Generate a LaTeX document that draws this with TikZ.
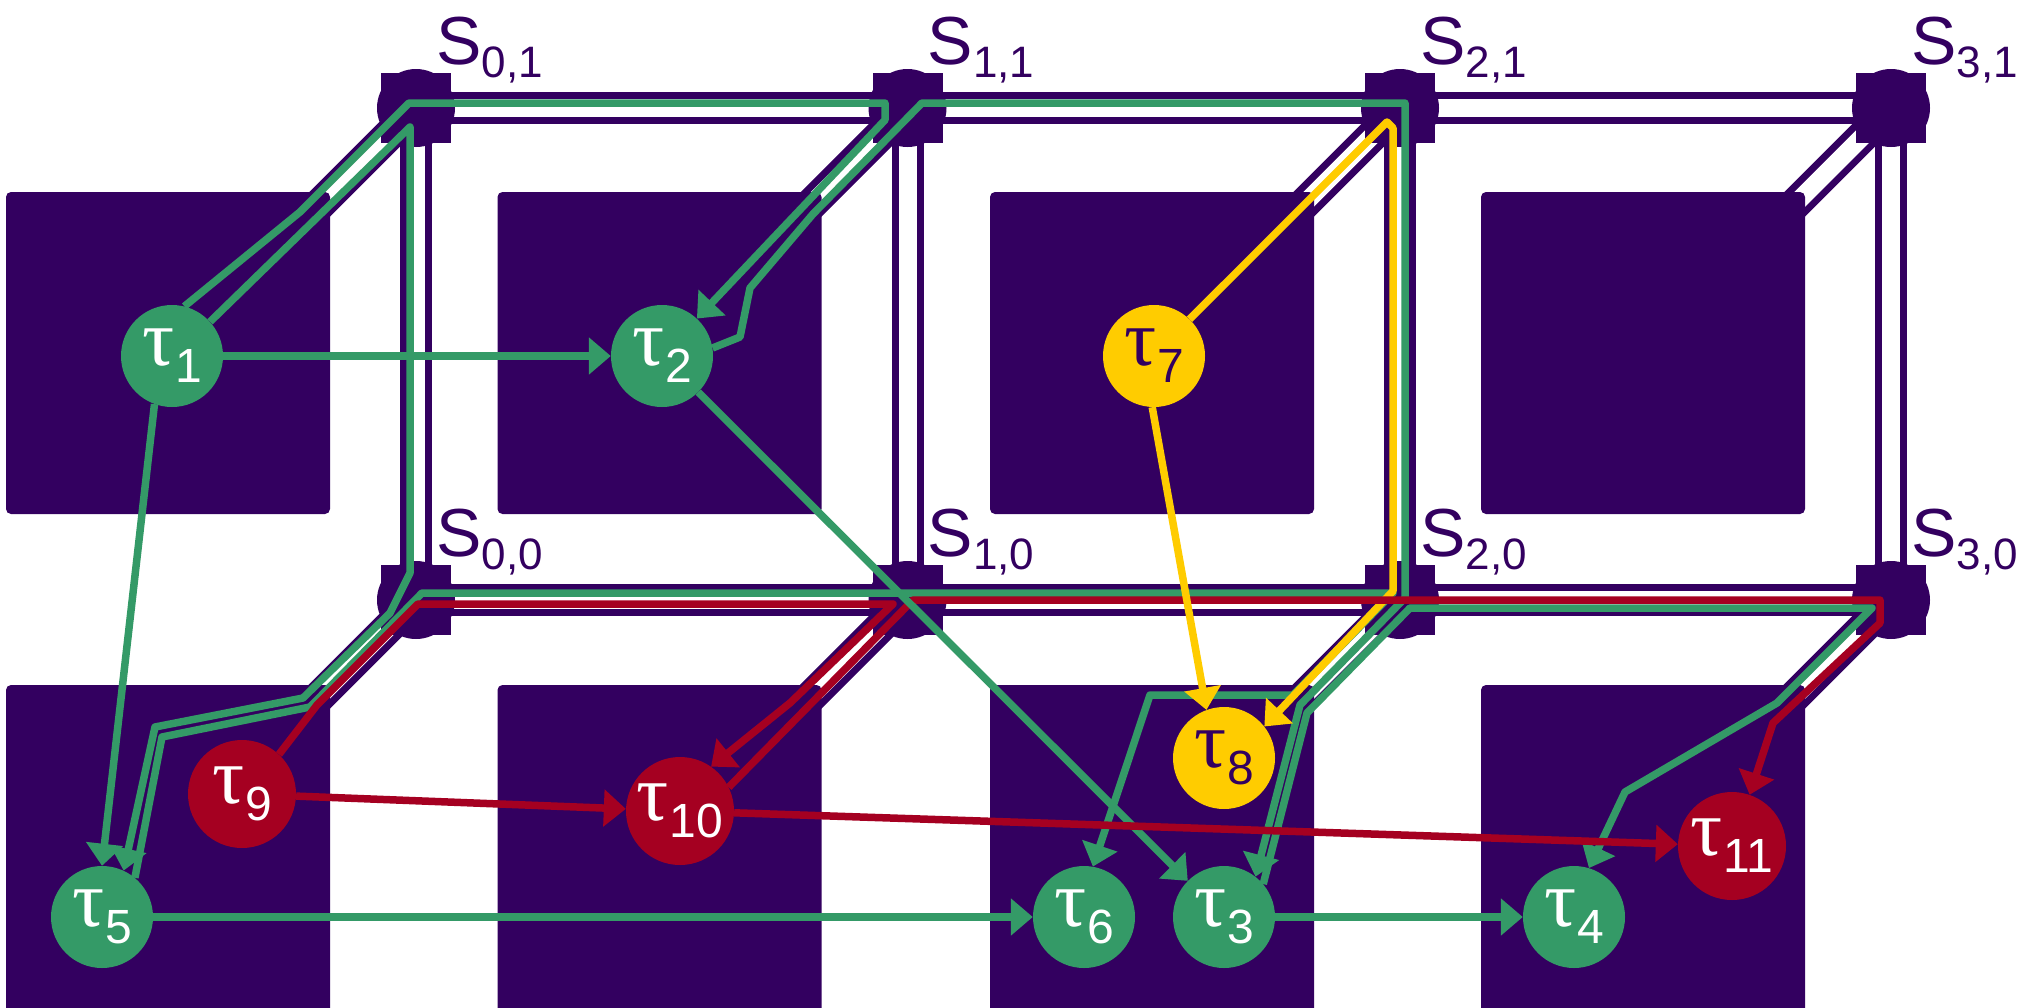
\documentclass[tikz,border=0pt]{standalone}
\usepackage{fontspec}
\setmainfont{Liberation Sans}
\newfontfamily\taufont{Liberation Serif}
\usetikzlibrary{arrows.meta}
\definecolor{dk}{RGB}{51,0,96}
\definecolor{gr}{RGB}{52,154,103}
\definecolor{rd}{RGB}{165,0,33}
\definecolor{yl}{RGB}{255,204,0}
\pgfdeclarelayer{bg}
\pgfdeclarelayer{mid}
\pgfsetlayers{bg,mid,main}
\newcommand\tsk[1]{{\taufont τ}\kern1pt\raisebox{-17pt}{\fontsize{48}{48}\selectfont #1}}
\newcommand\swl[1]{S\raisebox{-13pt}{\fontsize{44}{44}\selectfont #1}}
\tikzset{
  linkout/.style={line width=32pt, draw=dk},
  linkin/.style={line width=18pt, draw=white},
  blk/.style={fill=dk, rounded corners=5pt},
  swc/.style={circle, fill=dk, minimum size=78pt, inner sep=0pt},
  sws/.style={rectangle, fill=dk, minimum size=70pt, inner sep=0pt},
  swlab/.style={anchor=base west, text=dk, inner sep=0pt, font=\fontsize{68}{68}\selectfont},
  route/.style={line width=7.5pt, line join=round},
  arr/.style={-{Triangle[length=22pt,width=36pt]}},
  task/.style={circle, minimum size=102pt, inner sep=0pt, font=\fontsize{80}{80}\selectfont},
  gtask/.style={task, fill=gr, text=white},
  rtask/.style={task, fill=rd, text=white, minimum size=108pt},
  ytask/.style={task, fill=yl, text=dk},
}
\begin{document}
\begin{tikzpicture}[x=1pt,y=-1pt]
\useasboundingbox (0,0) rectangle (2032,1007);
\clip (0,0) rectangle (2032,1007);
% switch positions
\coordinate (s01) at (416,108);
\coordinate (s11) at (907.5,108);
\coordinate (s21) at (1400,108);
\coordinate (s31) at (1891,108);
\coordinate (s00) at (416,600);
\coordinate (s10) at (907.5,600);
\coordinate (s20) at (1400,600);
\coordinate (s30) at (1891,600);
% diagonal link ends
\coordinate (d01) at (301,223);
\coordinate (d11) at (792.5,223);
\coordinate (d21) at (1285,223);
\coordinate (d31) at (1776,223);
\coordinate (d00) at (301,715);
\coordinate (d10) at (792.5,715);
\coordinate (d20) at (1285,715);
\coordinate (d30) at (1776,715);

\begin{pgfonlayer}{bg}
\foreach \a/\b in {s01/s11,s11/s21,s21/s31,s00/s10,s10/s20,s20/s30,s01/s00,s11/s10,s21/s20,s31/s30,s01/d01,s11/d11,s21/d21,s31/d31,s00/d00,s10/d10,s20/d20,s30/d30}
  {\draw[linkout] (\a) -- (\b);}
\foreach \a/\b in {s01/s11,s11/s21,s21/s31,s00/s10,s10/s20,s20/s30,s01/s00,s11/s10,s21/s20,s31/s30,s01/d01,s11/d11,s21/d21,s31/d31,s00/d00,s10/d10,s20/d20,s30/d30}
  {\draw[linkin] (\a) -- (\b);}
\foreach \s in {s01,s11,s21,s31,s00,s10,s20,s30}
  {\node[swc] at (\s) {}; \node[sws] (S\s) at (\s) {};}
% blocks
\foreach \x in {6,497.5,990,1481}
  {\fill[blk] (\x,192) rectangle ++(324,322);
   \fill[blk] (\x,685) rectangle ++(324,340);}
\end{pgfonlayer}

% switch labels
\node[swlab] (l01) at (436,64) {\swl{0,1}};
\node[swlab] (l11) at (927.5,64) {\swl{1,1}};
\node[swlab] (l21) at (1420,64) {\swl{2,1}};
\node[swlab] (l31) at (1911,64) {\swl{3,1}};
\node[swlab] (l00) at (436,556) {\swl{0,0}};
\node[swlab] (l10) at (927.5,556) {\swl{1,0}};
\node[swlab] (l20) at (1420,556) {\swl{2,0}};
\node[swlab] (l30) at (1911,556) {\swl{3,0}};

% tasks
\node[gtask] (t1) at (172,356) {\tsk{1}};
\node[gtask] (t2) at (662,356) {\tsk{2}};
\node[ytask] (t7) at (1154,356) {\tsk{7}};
\node[rtask] (t9) at (242,794) {\tsk{9}};
\node[rtask] (t10) at (680,811) {\tsk{10}};
\node[rtask] (t11) at (1732,846) {\tsk{11}};
\node[gtask] (t5) at (102,917) {\tsk{5}};
\node[gtask] (t6) at (1084,917) {\tsk{6}};
\node[gtask] (t3) at (1224,917) {\tsk{3}};
\node[gtask] (t4) at (1574,917) {\tsk{4}};
\node[ytask] (t8) at (1224,758) {\tsk{8}};

\begin{pgfonlayer}{mid}
% green routes
\draw[route, gr, arr] (t1.76) -- (300,212) -- (409,103) -- (885,103) -- (885,120) -- (t2.47);
\draw[route, gr, arr] (t1.42) -- (410,127) -- (410,573) -- (390,613) -- (303,698) -- (155,727) -- (t5.65);
\draw[route, gr, arr] (t5.50) -- (162,737) -- (310,707) -- (422,593) -- (1393,593) -- (1293,695) -- (1150,695) -- (t6.80);
\draw[route, gr, arr] (t2.9) -- (740,337) -- (750,288) -- (813,214) -- (922,103) -- (1405,103) -- (1405,598) -- (1300,705) -- (t3.52);
\draw[route, gr, arr] (t3.40) -- (1307,713) -- (1410,608) -- (1872,608) -- (1777,703) -- (1625,792) -- (t4.73);
% yellow route
\draw[route, yl, arr] (t7.46) -- (1387,122) -- (1393,128) -- (1393,591) -- (t8.38);
% red routes
\draw[route, rd, arr] (t9.47) -- (317,705) -- (418,604) -- (893,604) -- (790,703) -- (t10.55);
\draw[route, rd, arr] (t10.26) -- (913,600) -- (1880,600) -- (1880,623) -- (1773,723) -- (t11.71);
% logical edges
\draw[route, gr, arr] (t1) -- (t2);
\draw[route, gr, arr] (t1.250) -- (t5.90);
\draw[route, gr, arr] (t2) -- (t3);
\draw[route, gr, arr] (t5) -- (t6);
\draw[route, gr, arr] (t3) -- (t4);
\draw[route, yl, arr] (t7.268) -- (t8.110);
\draw[route, rd, arr] (t9) -- (t10);
\draw[route, rd, arr] (t10) -- (t11);
\end{pgfonlayer}
\end{tikzpicture}
\end{document}
